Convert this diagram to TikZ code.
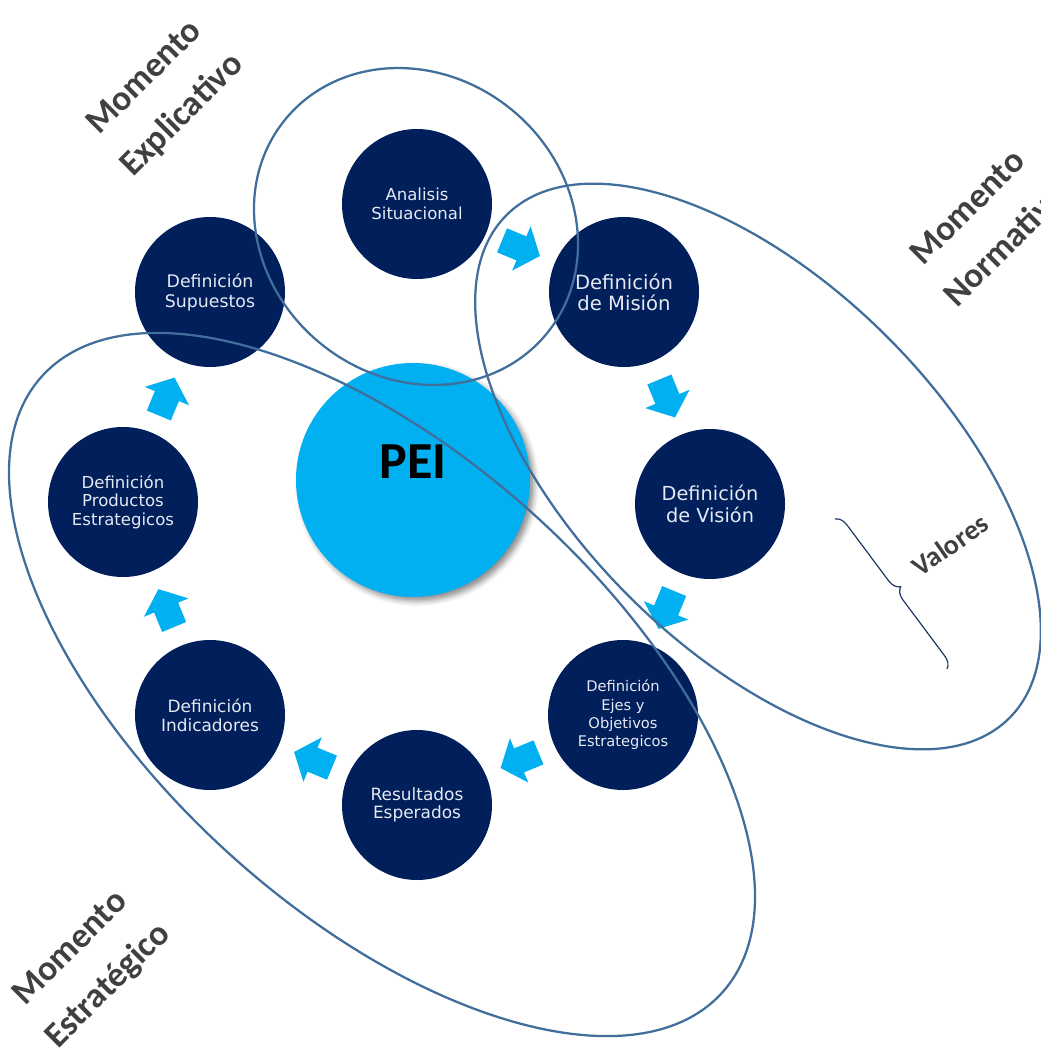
\documentclass[tikz,border=0pt]{standalone}
\usepackage{fontspec}
\setmainfont{DejaVu Sans}
\newfontfamily\tagfont{Carlito}
\usetikzlibrary{calc,shadows.blur,decorations.pathreplacing}

\definecolor{navy}{RGB}{0,31,91}
\definecolor{skyblue}{RGB}{0,176,240}
\definecolor{ringline}{RGB}{65,110,155}
\definecolor{labelgray}{RGB}{64,64,64}
\definecolor{bracecol}{RGB}{31,56,100}
\definecolor{circletext}{RGB}{230,233,242}

\tikzset{
  stage/.style={circle, fill=navy, minimum size=112.5pt, inner sep=0pt,
    text=circletext, align=center},
  ring/.style={draw=ringline, line width=1.7pt},
  phase/.style={text=labelgray, align=center, rotate=45,
    font=\tagfont\bfseries\fontsize{26.5}{40}\selectfont},
  flow/.pic={\fill[skyblue] (-20,-13) -- (1,-13) -- (1,-24) -- (21,0)
    -- (1,24) -- (1,13) -- (-20,13) -- cycle;}
}

\begin{document}
\begin{tikzpicture}[x=0.75pt,y=-0.75pt]
\useasboundingbox (0,0) rectangle (1040,1055);

% central hub
\node[circle, fill=skyblue, minimum size=175.5pt, inner sep=0pt,
  blur shadow={shadow xshift=3pt, shadow yshift=-3pt, shadow blur radius=4pt,
  shadow opacity=45}] (pei) at (413,480) {};
\node[font=\tagfont\bfseries\fontsize{39}{45}\selectfont] (peitext) at (413,462) {PEI};

% planning stages around the hub
\node[stage, font=\fontsize{12.4}{14}\selectfont] (sit) at (417,204) {Analisis\\Situacional};
\node[stage, font=\fontsize{14.7}{15.8}\selectfont] (mis) at (624,292) {Definición\\de Misión};
\node[stage, font=\fontsize{14.5}{16.5}\selectfont] (vis) at (710,504) {Definición\\de Visión};
\node[stage, font=\fontsize{11}{13.7}\selectfont] (eje) at (623,715) {Definición\\Ejes y\\Objetivos\\Estrategicos};
\node[stage, font=\fontsize{12.7}{13.5}\selectfont] (res) at (417,805) {Resultados\\Esperados};
\node[stage, font=\fontsize{12.7}{14.25}\selectfont] (ind) at (210,715) {Definición\\Indicadores};
\node[stage, font=\fontsize{12.4}{13.9}\selectfont] (pro) at (123,502) {Definición\\Productos\\Estrategicos};
\node[stage, font=\fontsize{13}{15}\selectfont] (sup) at (210,292) {Definición\\Supuestos};

% block arrows between consecutive stages
\pic[rotate=-22.5] at ($(sit)!0.5!(mis)$) {flow};
\pic[rotate=-67.5] at ($(mis)!0.5!(vis)$) {flow};
\pic[rotate=-112.5] at ($(vis)!0.5!(eje)$) {flow};
\pic[rotate=-157.5] at ($(eje)!0.5!(res)$) {flow};
\pic[rotate=157.5] at ($(res)!0.5!(ind)$) {flow};
\pic[rotate=112.5] at ($(ind)!0.5!(pro)$) {flow};
\pic[rotate=67.5] at ($(pro)!0.5!(sup)$) {flow};

% groupings of the three moments
\draw[ring, rotate around={-39.3:(416,226.5)}] (416,226.5) ellipse [x radius=169, y radius=151];
\draw[ring, rotate around={-45:(758,466.5)}] (758,466.5) ellipse [x radius=355.6, y radius=183];
\draw[ring, rotate around={-42.2:(382,684.5)}] (382,684.5) ellipse [x radius=459, y radius=228];

% values brace
\coordinate (vtop) at (835,519);
\coordinate (vbot) at (947,669);
\draw[bracecol, line width=0.9pt, decorate, decoration={brace, amplitude=9pt}] (vtop) -- (vbot);
\node[text=labelgray, font=\tagfont\bfseries\fontsize{21}{25}\selectfont, rotate=35] (val) at (950,545) {Valores};

% moment labels
\node[phase] (expl) at (164,97) {Momento\\Explicativo};
\node[phase] (norm) at (986,226) {Momento\\Normativo};
\node[phase] (estr) at (90,968) {Momento\\Estratégico};
\end{tikzpicture}
\end{document}
